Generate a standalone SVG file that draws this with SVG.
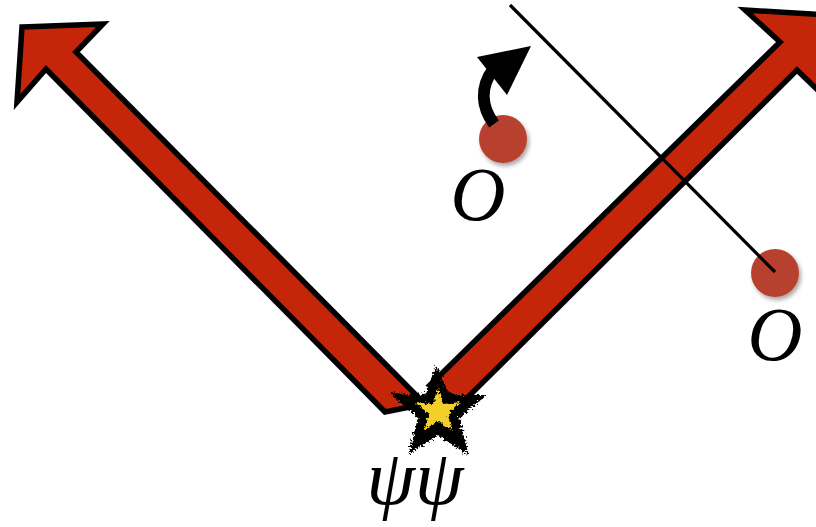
<svg xmlns="http://www.w3.org/2000/svg" width="816" height="527" viewBox="0 0 816 527">
<style>
.big{fill:#C5260A;stroke:#000;stroke-width:5.5;stroke-linejoin:miter}
.dot{fill:#B8412F;filter:url(#sh)}
.lbl{font-family:"Liberation Serif","DejaVu Serif",serif;font-style:italic;fill:#000}
</style>
<defs>
<filter id="sh" x="-30%" y="-30%" width="170%" height="170%">
<feGaussianBlur in="SourceAlpha" stdDeviation="2"/>
<feOffset dx="2" dy="3" result="b"/>
<feFlood flood-color="#000" flood-opacity="0.35"/>
<feComposite in2="b" operator="in"/>
<feMerge><feMergeNode/><feMergeNode in="SourceGraphic"/></feMerge>
</filter>
<filter id="rough" x="-30%" y="-30%" width="160%" height="160%">
<feTurbulence type="fractalNoise" baseFrequency="0.5" numOctaves="2" seed="5"/>
<feDisplacementMap in="SourceGraphic" scale="9" xChannelSelector="R" yChannelSelector="G"/>
</filter>
<filter id="rough2" x="-30%" y="-30%" width="160%" height="160%">
<feTurbulence type="fractalNoise" baseFrequency="0.4" numOctaves="2" seed="8"/>
<feDisplacementMap in="SourceGraphic" scale="6" xChannelSelector="R" yChannelSelector="G"/>
</filter>
</defs>
<g id="arrows">
<polygon id="arrow-left" class="big" points="22,27 103,24 76,52 425,404 385,412 46,69 17,102"/>
<polygon id="arrow-right" class="big" points="745,10 828,15 830,102 797,70 463,402 430,385 780,42"/>
</g>
<g id="star">
<polygon fill="#000" filter="url(#rough)" points="436,366 450,395 487,395 459,418 469,456 438,435 408,455 418,418 390,393 425,395"/>
<polygon fill="#F3CF2A" filter="url(#rough2)" points="438,388 443,404 461,402 448,414 452,431 438,421 424,430 429,414 416,403 433,404"/>
</g>
<g id="dot1"><circle class="dot" cx="503" cy="139" r="24"/></g>
<g id="dot2"><circle class="dot" cx="775" cy="273" r="24"/></g>
<g id="connectors">
<line x1="510" y1="5" x2="775" y2="272" stroke="#000" stroke-width="3.2"/>
<path d="M494 124 C482 108 479 88 494 68" fill="none" stroke="#000" stroke-width="12"/>
<polygon points="477,57 531,46 507,95" fill="#000"/>
</g>
<g id="labels">
<text class="lbl" x="478" y="220" font-size="76" text-anchor="middle">O</text>
<text class="lbl" x="775" y="360" font-size="76" text-anchor="middle">O</text>
<text class="lbl" x="415" y="504" font-size="78" text-anchor="middle">ψψ</text>
</g>
</svg>
